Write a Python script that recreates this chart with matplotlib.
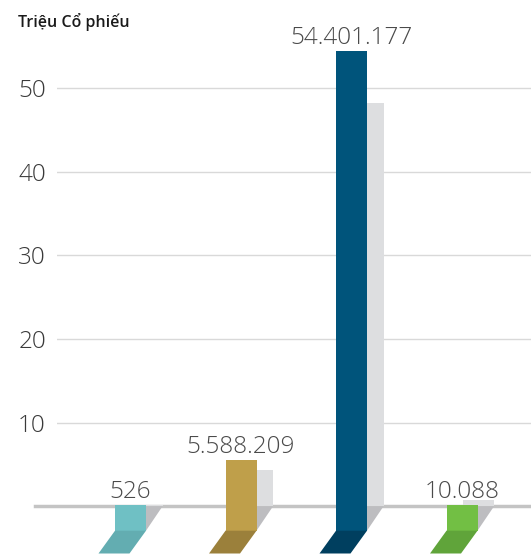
import matplotlib.pyplot as plt
from matplotlib.patches import Polygon, Rectangle

# share counts per category (front bars, labelled)
values = [526, 5588209, 54401177, 10088]
labels = ["526", "5.588.209", "54.401.177", "10.088"]
# unlabelled back bars, in millions
back_values = [0.16, 4.3, 48.2, 0.75]

colors = ["#6fc0c4", "#bf9f4a", "#00547b", "#72bf44"]
foot_colors = ["#63adb1", "#9b803b", "#003f5f", "#60a43a"]
yticks = [10, 20, 30, 40, 50]

plt.rcParams['font.family'] = ['Open Sans', 'DejaVu Sans']

W, H = 531, 557
fig = plt.figure(figsize=(W / 100, H / 100), dpi=100)
ax = fig.add_axes([57 / W, 0, (W - 57) / W, 1])

# pixel -> data scale: 110.5 px per category, 8.366 px per million
px_x = 110.5
px_y = 8.366
ax.set_xlim((57 - 130.5) / px_x, (W - 130.5) / px_x)
ax.set_ylim(-(H - 506.3) / px_y, 506.3 / px_y)

for s in ax.spines.values():
    s.set_visible(False)
ax.set_xticks([])
ax.set_yticks(yticks)
ax.tick_params(axis='y', length=0, pad=8, labelsize=17.5, labelcolor='#3a3a3a')
for t in ax.get_yticklabels():
    t.set_fontweight('light')

for v in yticks:
    ax.axhline(v, color='#d9d9d9', lw=1.0, zorder=0)
ax.axhline(0, xmin=-22 / (W - 57), xmax=1, color='#c4c4c4', lw=2.5,
           clip_on=False, zorder=1)

half = 15.5 / px_x           # half bar width
dx = 16.5 / px_x             # perspective offset of the back bar
bottom = -(530.7 - 506.3) / px_y
foot = -(553.5 - 506.3) / px_y
min_h = 0.16

for i, (v, lab, bv) in enumerate(zip(values, labels, back_values)):
    h = max(v / 1e6, min_h)
    xl, xr = i - half, i + half
    # back bar and its shadow
    ax.add_patch(Rectangle((xl + dx, 0), xr - xl, bv, color='#dddee0', lw=0, zorder=2))
    ax.add_patch(Polygon([(xl + dx, 0), (xr + dx, 0), (xr, bottom), (xl, bottom)],
                         closed=True, color='#bdbdc0', lw=0, zorder=2))
    # front bar and its foot
    ax.add_patch(Rectangle((xl, bottom), xr - xl, h - bottom, color=colors[i], lw=0, zorder=3))
    ax.add_patch(Polygon([(xl, bottom), (xr, bottom), (xr - dx, foot), (xl - dx, foot)],
                         closed=True, color=foot_colors[i], lw=0, zorder=3))
    ax.annotate(lab, (i, h), xytext=(0, 5), textcoords='offset points',
                ha='center', va='baseline', fontsize=17.5, color='#4a4a4a',
                fontweight='light')

fig.text(18 / W, 1 - 26.7 / H, "Triệu Cổ phiếu", fontsize=11.5, fontweight='semibold',
         color='#1a1a1a', va='baseline', ha='left')

fig.savefig('out.png', dpi=100)
